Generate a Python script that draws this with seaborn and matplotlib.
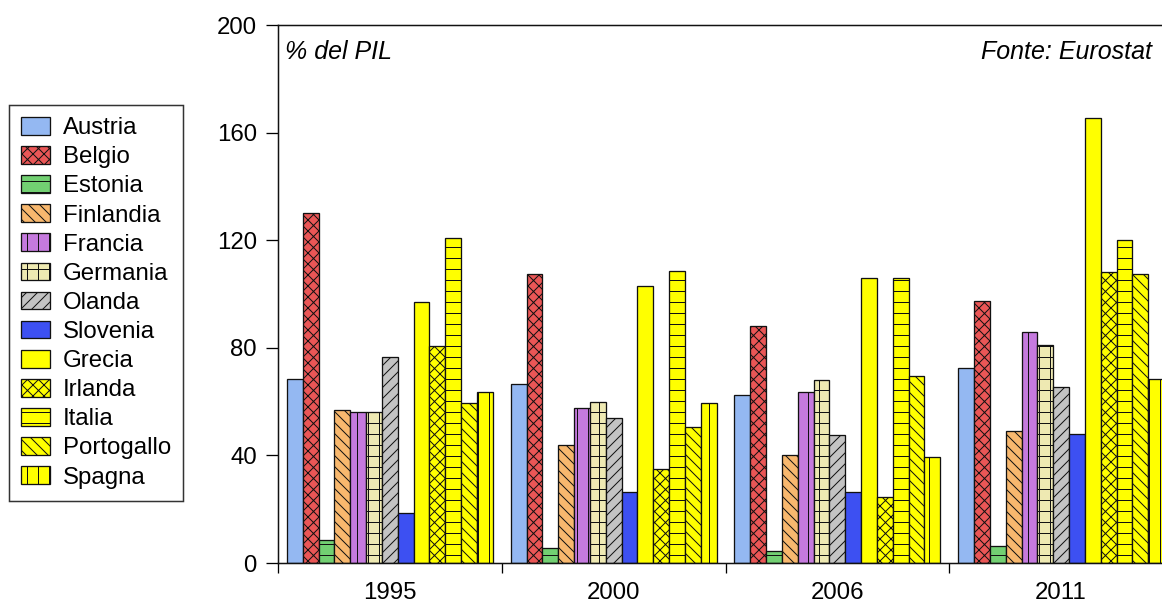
import matplotlib
matplotlib.use('Agg')
import matplotlib.pyplot as plt
from matplotlib.patches import Patch
import seaborn as sns
import pandas as pd

# --- DATI: debito pubblico, % del PIL (fonte Eurostat) ---
ANNI = ["1995", "2000", "2006", "2011"]
PAESI = ["Austria", "Belgio", "Estonia", "Finlandia", "Francia", "Germania", "Olanda",
         "Slovenia", "Grecia", "Irlanda", "Italia", "Portogallo", "Spagna"]

VAL_1995 = [68.5, 130, 8.5, 57, 56, 56, 76.5, 18.5, 97, 80.5, 121, 59.5, 63.5]
VAL_2000 = [66.5, 107.5, 5.5, 44, 57.5, 60, 54, 26.5, 103, 35, 108.5, 50.5, 59.5]
VAL_2006 = [62.5, 88, 4.5, 40, 63.5, 68, 47.5, 26.5, 106, 24.5, 106, 69.5, 39.5]
VAL_2011 = [72.5, 97.5, 6.5, 49, 86, 81, 65.5, 48, 165.5, 108, 120, 107.5, 68.5]

Y_TICKS = [0, 40, 80, 120, 160, 200]

# --- STILE ---
COLORI = ["#94b8f2", "#ea5656", "#72d072", "#f8b86e", "#c57ade", "#eee9b2", "#c3c3c3",
          "#3d50f2", "#ffff00", "#ffff00", "#ffff00", "#ffff00", "#ffff00"]
HATCH = ["", "xx", "-", "\\\\", "|", "+", "//", "", "", "xx", "-", "\\\\", "|"]

DPI = 66            # hatch pattern size follows dpi
PX = 72 / DPI       # points per pixel
W, H = 1162, 602

rows = []
for anno, vals in zip(ANNI, [VAL_1995, VAL_2000, VAL_2006, VAL_2011]):
    for paese, v in zip(PAESI, vals):
        rows.append({"anno": anno, "paese": paese, "valore": v})
df = pd.DataFrame(rows)

sns.set_style("ticks")
plt.rcParams['font.family'] = ['Liberation Sans', 'DejaVu Sans']
plt.rcParams['hatch.linewidth'] = 1.0 * PX
plt.rcParams['hatch.color'] = 'black'
plt.rcParams['text.color'] = 'black'
plt.rcParams['xtick.color'] = 'black'
plt.rcParams['ytick.color'] = 'black'
plt.rcParams['xtick.labelcolor'] = 'black'
plt.rcParams['ytick.labelcolor'] = 'black'

FS = 24 * PX

fig = plt.figure(figsize=(W / DPI, H / DPI), dpi=DPI)
ax = fig.add_axes([278 / W, 1 - 563 / H, 895 / W, 538 / H])

sns.barplot(data=df, x="anno", y="valore", hue="paese", order=ANNI, hue_order=PAESI,
            palette=COLORI, saturation=1, width=0.92, errorbar=None, edgecolor="#111111",
            linewidth=1.3 * PX, legend=False, ax=ax)

for cont, h in zip(ax.containers, HATCH):
    for bar in cont:
        bar.set_hatch(h)

ax.set_xlim(-0.5, len(ANNI) - 0.5)
ax.set_ylim(0, 200)
ax.set_yticks(Y_TICKS)
ax.set_xlabel("")
ax.set_ylabel("")

ax.set_xticks([i - 0.5 for i in range(len(ANNI) + 1)], minor=True)
ax.tick_params(axis='x', which='major', length=0, pad=19 * PX, labelsize=FS)
ax.tick_params(axis='x', which='minor', length=10 * PX, width=1.3 * PX, direction='out')
ax.tick_params(axis='y', length=12 * PX, width=1.3 * PX, pad=9 * PX, labelsize=FS)

for s in ax.spines.values():
    s.set_linewidth(1.5 * PX)
    s.set_color('#111111')

fig.text(285 / W, 1 - 52 / H, "% del PIL", style='italic', fontsize=25 * PX, ha='left', va='center')
fig.text(1152 / W, 1 - 52 / H, "Fonte: Eurostat", style='italic', fontsize=25 * PX,
         ha='right', va='center')

handles = [Patch(facecolor=c, edgecolor='#111111', hatch=h, linewidth=1.3 * PX, label=p)
           for p, c, h in zip(PAESI, COLORI, HATCH)]
leg = fig.legend(handles=handles, loc='upper left', bbox_to_anchor=(9 / W, 1 - 105 / H),
                 frameon=True, fancybox=False, framealpha=1, edgecolor='#333333',
                 fontsize=FS, borderpad=0.5, labelspacing=0.29, handlelength=1.2,
                 handleheight=0.75, handletextpad=0.55, borderaxespad=0)
leg.get_frame().set_linewidth(1.5 * PX)

fig.savefig("out.png", dpi=DPI)
plt.close(fig)
